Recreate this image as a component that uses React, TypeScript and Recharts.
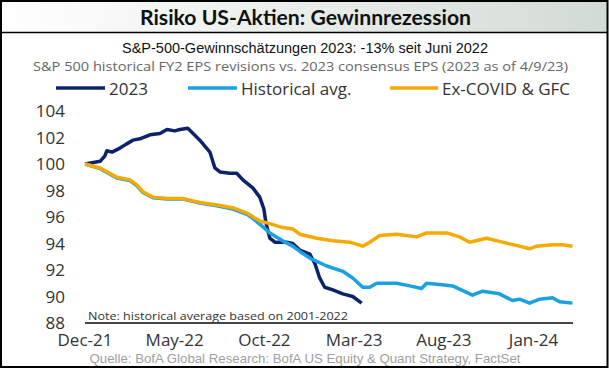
import { CartesianGrid, Line, LineChart, XAxis, YAxis } from 'recharts'

// months since Dec-21
const monthTicks = [0, 5, 10, 15, 20, 25]
const monthLabels = ['Dec-21', 'May-22', 'Oct-22', 'Mar-23', 'Aug-23', 'Jan-24']
const yTicks = [88, 90, 92, 94, 96, 98, 100, 102, 104]

const months2023 = [
  0, 0.4, 0.84, 1.1, 1.22, 1.5, 1.95, 2.3, 2.67, 3.06, 3.62, 4.18, 4.57, 5.0, 5.29, 5.73, 6.4, 6.96,
  7.24, 7.52, 8.07, 8.46, 8.8, 9.35, 9.74, 9.97, 10.08, 10.3, 10.58, 11.25, 11.58, 11.97, 12.53,
  12.81, 13.08, 13.36, 13.81, 14.37, 14.92, 15.42
]
const values2023 = [
  100, 100.1, 100.2, 100.6, 101.0, 100.9, 101.2, 101.5, 101.8, 101.9, 102.2, 102.3, 102.6, 102.5,
  102.6, 102.7, 101.8, 100.9, 99.7, 99.4, 99.3, 99.3, 98.8, 98.2, 97.5, 96.6, 95.6, 94.4, 94.1, 94.1,
  94.0, 93.5, 93.2, 92.5, 91.4, 90.7, 90.5, 90.2, 90.0, 89.5
]

const monthsHist = [
  0, 0.84, 1.78, 2.51, 2.9, 3.23, 3.79, 4.57, 5.46, 6.4, 7.35, 8.24, 9.02, 9.35, 9.97, 10.3, 11.02,
  11.58, 11.97, 12.53, 13.47, 14.37, 14.92, 15.48, 15.87, 16.26, 17.37, 18.1, 18.76, 19.04, 19.77,
  20.49, 21.6, 22.16, 23.1, 23.83, 24.22, 24.78, 25.34, 26.06, 26.45, 27.17
]
const valuesHist = [
  100, 99.65, 98.95, 98.75, 98.35, 97.85, 97.45, 97.35, 97.35, 97.05, 96.85, 96.6, 96.2, 95.9, 95.2,
  94.8, 94.2, 93.8, 93.4, 92.9, 92.3, 91.9, 91.4, 90.7, 90.7, 91.0, 91.0, 90.8, 90.6, 91.0, 90.9,
  90.8, 90.1, 90.4, 90.2, 89.7, 89.8, 89.5, 89.8, 89.9, 89.6, 89.5
]

const monthsExCovid = [
  0, 0.84, 1.78, 2.51, 2.9, 3.23, 3.79, 4.57, 5.46, 6.4, 7.35, 8.24, 9.02, 9.74, 10.3, 11.02, 11.58,
  11.97, 12.92, 13.81, 14.76, 15.48, 15.87, 16.43, 17.37, 18.49, 19.04, 20.16, 20.88, 21.44, 22.38,
  23.27, 24.22, 24.78, 25.17, 26.06, 26.61, 27.17
]
const valuesExCovid = [
  100, 99.7, 99.0, 98.8, 98.4, 97.9, 97.5, 97.4, 97.4, 97.1, 96.9, 96.7, 96.3, 95.7, 95.5, 95.2,
  95.1, 94.7, 94.4, 94.2, 94.1, 93.8, 94.1, 94.6, 94.7, 94.5, 94.8, 94.8, 94.5, 94.1, 94.4, 94.1,
  93.8, 93.6, 93.8, 93.9, 93.9, 93.8
]

const toRows = (xs: number[], ys: number[]) => xs.map((m, i) => ({ m, v: ys[i] }))

const series = [
  { name: '2023', color: '#0d2369', data: toRows(months2023, values2023) },
  { name: 'Historical avg.', color: '#1ba1e2', data: toRows(monthsHist, valuesHist) },
  { name: 'Ex-COVID & GFC', color: '#f4aa00', data: toRows(monthsExCovid, valuesExCovid) }
]

const legendPos = [
  { x1: 56, x2: 105, tx: 109 },
  { x1: 188, x2: 237, tx: 241 },
  { x1: 390, x2: 438, tx: 442 }
]

const tickFont = { fontFamily: 'Open Sans', fontSize: 17, fill: '#333' }

const App = () => {
  return (
    <div style={{ position: 'absolute', left: 0, top: 0, width: 610, height: 369, background: '#fff' }}>
      <svg width={610} height={369} style={{ position: 'absolute', left: 0, top: 0 }}>
        <defs>
          <linearGradient id="band" x1="0" y1="0" x2="1" y2="0">
            <stop offset="0%" stopColor="#ffffff" />
            <stop offset="100%" stopColor="#d3dbd5" />
          </linearGradient>
        </defs>
        <rect x={1} y={1} width={606} height={31} fill="url(#band)" />
        <line x1={1} x2={607} y1={32.5} y2={32.5} stroke="#000" strokeWidth={1.5} />
        <rect x={1} y={1} width={606.5} height={366} fill="none" stroke="#000" strokeWidth={2} />
        <text
          x={305.5}
          y={24.5}
          textAnchor="middle"
          fontFamily="Lato"
          fontWeight="bold"
          fontSize={21}
          fill="#111"
          textLength={331}
          lengthAdjust="spacingAndGlyphs"
        >
          Risiko US-Aktien: Gewinnrezession
        </text>
        <text
          x={305}
          y={53}
          textAnchor="middle"
          fontFamily="Liberation Sans"
          fontSize={14}
          fill="#111"
          textLength={366}
          lengthAdjust="spacingAndGlyphs"
        >
          S&amp;P-500-Gewinnschätzungen 2023: -13% seit Juni 2022
        </text>
        <text
          x={300.5}
          y={70.5}
          textAnchor="middle"
          fontFamily="Open Sans"
          fontSize={12.5}
          fill="#666"
          textLength={535}
          lengthAdjust="spacingAndGlyphs"
        >
          S&amp;P 500 historical FY2 EPS revisions vs. 2023 consensus EPS (2023 as of 4/9/23)
        </text>
        {series.map((s, i) => (
          <g key={s.name}>
            <line x1={legendPos[i].x1} x2={legendPos[i].x2} y1={88} y2={88} stroke={s.color} strokeWidth={3.5} />
            <text x={legendPos[i].tx} y={94.5} fontFamily="Open Sans" fontSize={17} fill="#333">
              {s.name}
            </text>
          </g>
        ))}
        <text
          x={88}
          y={319.5}
          fontFamily="Open Sans"
          fontSize={11}
          fill="#333"
          textLength={260}
          lengthAdjust="spacingAndGlyphs"
        >
          Note: historical average based on 2001-2022
        </text>
        <text
          x={305}
          y={363}
          textAnchor="middle"
          fontFamily="Liberation Sans"
          fontSize={13}
          fill="#a0a0a0"
          textLength={431}
          lengthAdjust="spacingAndGlyphs"
        >
          Quelle: BofA Global Research: BofA US Equity &amp; Quant Strategy, FactSet
        </text>
      </svg>
      <div style={{ position: 'absolute', left: 0, top: 0 }}>
        <LineChart width={610} height={369} margin={{ top: 111, right: 37, bottom: 16, left: 25 }}>
          <CartesianGrid stroke="none" />
          <XAxis
            dataKey="m"
            type="number"
            domain={[0, 27.2]}
            ticks={monthTicks}
            tickFormatter={(v) => monthLabels[monthTicks.indexOf(v)]}
            allowDuplicatedCategory={false}
            axisLine={{ stroke: '#444', strokeWidth: 2 }}
            tickLine={false}
            tickSize={0}
            tickMargin={11}
            height={30}
            tick={tickFont}
          />
          <YAxis
            type="number"
            domain={[88, 104]}
            ticks={yTicks}
            axisLine={false}
            tickLine={false}
            tickSize={0}
            tickMargin={20}
            width={60}
            tick={tickFont}
          />
          {series.map((s) => (
            <Line
              key={s.name}
              data={s.data}
              dataKey="v"
              type="linear"
              stroke={s.color}
              strokeWidth={3.5}
              dot={false}
              isAnimationActive={false}
              strokeLinejoin="round"
            />
          ))}
        </LineChart>
      </div>
    </div>
  )
}

export default App
